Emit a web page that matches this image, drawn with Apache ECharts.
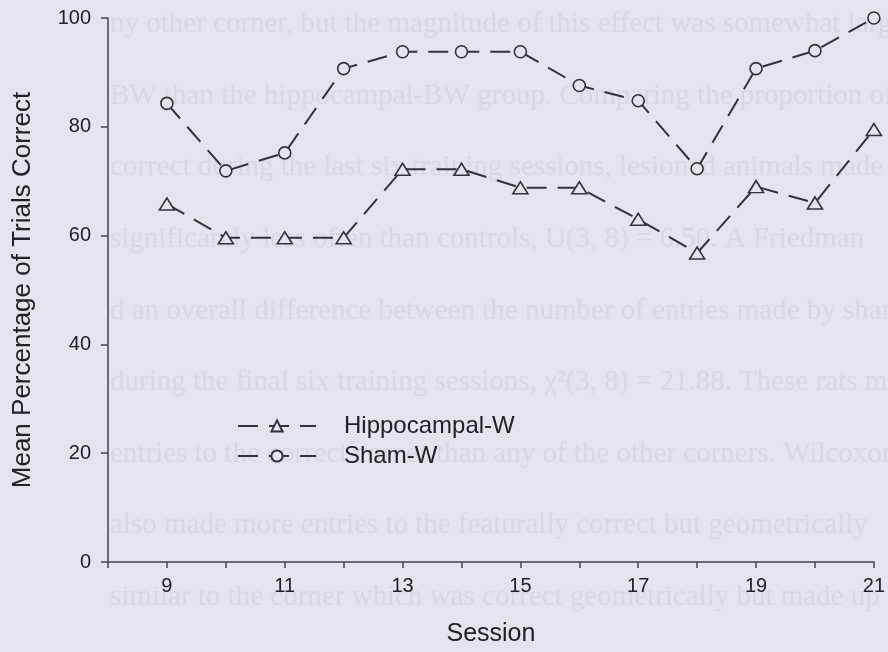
<!DOCTYPE html>
<html>
<head>
<meta charset="utf-8">
<script src="https://cdn.jsdelivr.net/npm/echarts@6/dist/echarts.min.js"></script>
<style>
  html, body { margin: 0; padding: 0; background: #e4e4ee; }
  #chart { width: 888px; height: 652px; }
</style>
</head>
<body>
<div id="chart"></div>
<script>
// sessions and mean % of trials correct
var sessions = [9, 10, 11, 12, 13, 14, 15, 16, 17, 18, 19, 20, 21];
var hippocampalW = [65.8, 59.6, 59.6, 59.6, 72.2, 72.2, 68.8, 68.8, 63, 56.8, 69, 66, 79.5];
var shamW = [84.3, 71.9, 75.2, 90.7, 93.8, 93.8, 93.8, 87.6, 84.8, 72.3, 90.7, 94, 100];
var yTicks = [0, 20, 40, 60, 80, 100];

// faint show-through text from the scanned page behind the chart
var pageLines = [
    'ny other corner, but the magnitude of this effect was somewhat larger',
    'BW than the hippocampal-BW group. Comparing the proportion of ch',
    'correct during the last six training sessions, lesioned animals made',
    'significantly less often than controls, U(3, 8) = 6.50. A Friedman',
    'd an overall difference between the number of entries made by sham',
    'during the final six training sessions, \u03c7\u00b2(3, 8) = 21.88. These rats m',
    'entries to the correct corner than any of the other corners. Wilcoxon T',
    'also made more entries to the featurally correct but geometrically',
    'similar to the corner which was correct geometrically but made up of'
];

var bg = '#e4e4ee';
var ink = '#333333';

function pair(xs, ys) {
    var out = [];
    for (var i = 0; i < xs.length; i++) out.push([xs[i], ys[i]]);
    return out;
}

window.onload = function () {
    var myChart = echarts.init(document.getElementById('chart'));

    var bgText = pageLines.map(function (t, i) {
        return {
            type: 'text',
            z: -10,
            silent: true,
            left: 110,
            top: 10 + i * 71.6,
            style: {
                text: t,
                font: '29px "Liberation Serif"',
                fill: '#d8d8e3'
            }
        };
    });

    var option = {
        backgroundColor: bg,
        animation: false,
        textStyle: { fontFamily: 'Liberation Sans, Arial, sans-serif', color: '#222' },
        graphic: bgText,
        grid: { left: 108, right: 9, top: 18, bottom: 86, containLabel: false },
        legend: {
            orient: 'vertical',
            left: 232,
            top: 409,
            itemWidth: 78,
            itemHeight: 14,
            itemGap: 6,
            textStyle: { fontSize: 24, color: '#222', padding: [0, 0, 0, 23] },
            data: ['Hippocampal-W', 'Sham-W']
        },
        xAxis: {
            type: 'value',
            min: 8,
            max: 21,
            interval: 1,
            name: 'Session',
            nameLocation: 'middle',
            nameGap: 60,
            nameTextStyle: { fontSize: 25, color: '#222' },
            splitLine: { show: false },
            axisLine: { lineStyle: { color: '#444', width: 1.5 } },
            axisTick: { inside: false, length: 6, lineStyle: { color: '#444', width: 1.5 } },
            axisLabel: {
                fontSize: 20,
                color: '#222',
                margin: 14,
                formatter: function (v) { return (v % 2 === 1) ? String(v) : ''; }
            }
        },
        yAxis: {
            type: 'value',
            min: yTicks[0],
            max: yTicks[yTicks.length - 1],
            interval: 20,
            name: 'Mean Percentage of Trials Correct',
            nameLocation: 'middle',
            nameGap: 72,
            nameTextStyle: { fontSize: 26, color: '#222' },
            splitLine: { show: false },
            axisLine: { show: true, lineStyle: { color: '#444', width: 1.5 } },
            axisTick: { show: true, length: 7, lineStyle: { color: '#444', width: 1.5 } },
            axisLabel: { fontSize: 20, color: '#222', margin: 17 }
        },
        series: [
            {
                name: 'Hippocampal-W',
                type: 'line',
                data: pair(sessions, hippocampalW),
                symbol: 'triangle',
                symbolSize: [15, 12],
                showAllSymbol: true,
                lineStyle: { color: ink, width: 2, type: [20, 11] },
                itemStyle: { color: bg, borderColor: ink, borderWidth: 1.6 }
            },
            {
                name: 'Sham-W',
                type: 'line',
                data: pair(sessions, shamW),
                symbol: 'circle',
                symbolSize: 12,
                showAllSymbol: true,
                lineStyle: { color: ink, width: 2, type: [20, 11] },
                itemStyle: { color: bg, borderColor: ink, borderWidth: 1.6 }
            }
        ]
    };
    myChart.setOption(option);
};
</script>
</body>
</html>
